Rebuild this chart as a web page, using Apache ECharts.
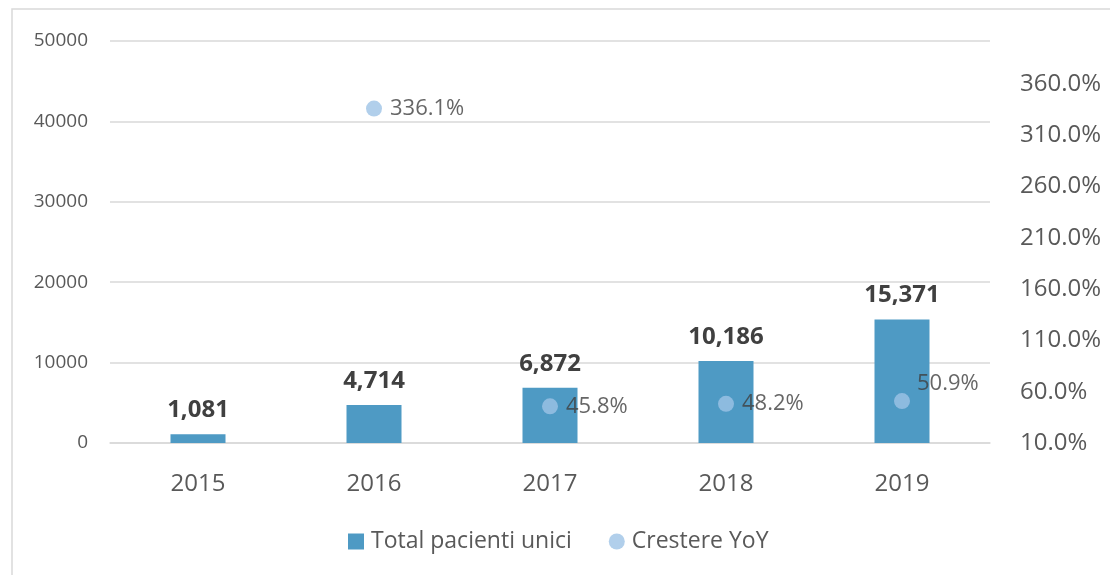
<!DOCTYPE html>
<html>
<head>
    <meta charset="utf-8">
    <title></title>
    <style type="text/css">
        html,
        body {
            height: 100%;
        }

        body {
            margin: 0;
            padding: 0;
            background: #fff;
        }

        #main {
            width: 1110px;
            height: 575px;
        }
    </style>
</head>

<body>
    <div id="main"></div>
    <script src="https://cdn.jsdelivr.net/npm/echarts@6/dist/echarts.min.js"></script>
    <script type="text/javascript">
        var years = ['2015', '2016', '2017', '2018', '2019'];
        var pacienti = [1081, 4714, 6872, 10186, 15371];
        var crestere = [null, 336.1, 45.8, 48.2, 50.9];
        var rightTicks = [10, 60, 110, 160, 210, 260, 310, 360];

        var font = '"Open Sans", "Noto Sans", sans-serif';
        var myChart;

        window.onload = function() {
            myChart = echarts.init(document.getElementById('main'));

            var growthData = crestere.map(function(v, i) {
                var item = { value: v };
                // last label sits above right in the original
                if (i === crestere.length - 1) {
                    item.label = { position: [23, -20] };
                }
                return item;
            });

            myChart.setOption({
                animation: false,
                textStyle: { fontFamily: font },
                graphic: [{
                    type: 'rect',
                    shape: { x: 12, y: 9, width: 1200, height: 700 },
                    style: { fill: 'none', stroke: '#d9d9d9', lineWidth: 1.5 },
                    silent: true
                }],
                grid: {
                    left: 110,
                    right: 120,
                    top: 41,
                    bottom: 132
                },
                legend: {
                    bottom: 17,
                    left: 343,
                    itemGap: 37,
                    itemWidth: 16,
                    itemHeight: 16,
                    textStyle: { fontSize: 23, color: '#595959', fontFamily: font, padding: [0, 0, 0, 2] },
                    data: [
                        { name: 'Total pacienti unici', icon: 'rect' },
                        { name: 'Crestere YoY', icon: 'circle' }
                    ]
                },
                xAxis: {
                    type: 'category',
                    data: years,
                    axisLine: { lineStyle: { color: '#d9d9d9', width: 1.5 } },
                    axisTick: { show: false },
                    axisLabel: { fontSize: 24, color: '#595959', margin: 29, fontFamily: font }
                },
                yAxis: [{
                    type: 'value',
                    min: 0,
                    max: 50000,
                    interval: 10000,
                    axisLine: { show: false },
                    axisTick: { show: false },
                    splitLine: { lineStyle: { color: '#d9d9d9', width: 1.5 } },
                    axisLabel: {
                        fontSize: 19,
                        color: '#595959',
                        margin: 22,
                        fontFamily: font,
                        formatter: function(v) {
                            return String(v);
                        }
                    }
                }, {
                    type: 'value',
                    min: 10,
                    max: 402,
                    interval: 50,
                    axisLine: { show: false },
                    axisTick: { show: false },
                    splitLine: { show: false },
                    axisLabel: {
                        fontSize: 24,
                        color: '#595959',
                        margin: 30,
                        fontFamily: font,
                        formatter: function(v) {
                            return rightTicks.indexOf(Math.round(v)) >= 0 ? v.toFixed(1) + '%' : '';
                        }
                    }
                }],
                series: [{
                    name: 'Total pacienti unici',
                    type: 'bar',
                    data: pacienti,
                    barWidth: 55,
                    itemStyle: { color: '#4e9ac4' },
                    label: {
                        show: true,
                        position: 'top',
                        distance: 12,
                        fontSize: 24,
                        fontWeight: 'bold',
                        color: '#404040',
                        fontFamily: font,
                        formatter: function(p) {
                            return p.value.toLocaleString('en-US');
                        }
                    }
                }, {
                    name: 'Crestere YoY',
                    type: 'scatter',
                    yAxisIndex: 1,
                    data: growthData,
                    symbol: 'circle',
                    symbolSize: 16,
                    itemStyle: { color: '#9dc3e6' },
                    label: {
                        show: true,
                        position: 'right',
                        distance: 8,
                        fontSize: 22,
                        color: '#404040',
                        fontFamily: font,
                        formatter: function(p) {
                            return p.value.toFixed(1) + '%';
                        }
                    }
                }]
            });
        };
    </script>
</body>

</html>
